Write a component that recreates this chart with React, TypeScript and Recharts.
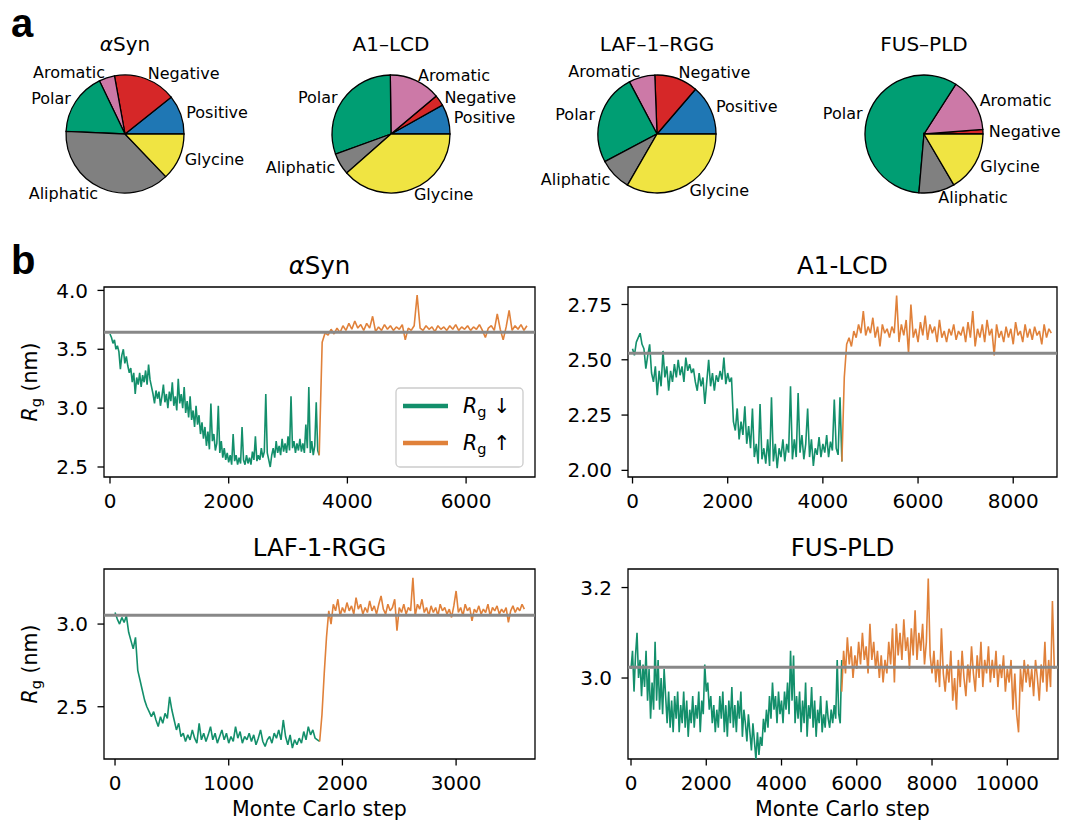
import React from 'react'
import { LineChart, Line, XAxis, YAxis, ReferenceLine, ReferenceArea, PieChart, Pie, Cell } from 'recharts'

const FONT = '"DejaVu Sans", sans-serif'
const GREEN = '#138f6b'
const ORANGE = '#e0813a'
const REF_GRAY = '#888888'

// residue classes (pie slices, counter-clockwise from 3 o'clock)
const CLASSES = ['Positive', 'Negative', 'Aromatic', 'Polar', 'Aliphatic', 'Glycine']
const CLASS_COLORS = ['#1f77b4', '#d62728', '#cc79a7', '#009e73', '#808080', '#f0e442']

const aSynComp = [15, 24, 6, 24, 53, 18]
const a1lcdComp = [11, 4, 19, 41, 8, 52]
const laf1Comp = [23, 20, 12, 42, 15, 56]
const fusComp = [0, 2, 24, 94, 16, 27]

// Rg traces (nm), sampled every `step` Monte Carlo steps
const aSynDownStep = 25
const aSynDown = [
  3.63, 3.6, 3.55, 3.58, 3.5, 3.53, 3.48, 3.33, 3.45, 3.5,
  3.38, 3.44, 3.36, 3.3, 3.34, 3.22, 3.3, 3.12, 3.26, 3.2,
  3.3, 3.18, 3.28, 3.22, 3.32, 3.2, 3.37, 3.24, 3.18, 3.12,
  3.04, 3.15, 3.08, 3.14, 3.02, 3.1, 3.2, 3.05, 3.12, 3.0,
  3.14, 3.06, 3.22, 3.02, 3.1, 2.98, 3.25, 3.04, 3.12, 3.0,
  3.18, 2.96, 3.06, 2.92, 3.1, 2.9, 2.98, 2.84, 3.02, 2.86,
  2.94, 2.78, 2.88, 2.74, 2.84, 2.68, 2.8, 2.65, 3.04, 2.72,
  2.78, 2.64, 2.7, 3.02, 2.62, 2.72, 2.58, 2.66, 2.56, 2.62,
  2.54, 2.6, 2.52, 2.78, 2.55, 2.6, 2.52, 2.58, 2.53, 2.84,
  2.56, 2.52, 2.6, 2.53, 2.58, 2.52, 2.63, 2.56, 2.76, 2.55,
  2.6, 2.56, 2.66, 2.58, 2.63, 3.12, 2.62, 2.56, 2.5, 2.6,
  2.66, 2.58, 2.72, 2.62, 2.68, 2.6, 2.74, 2.63, 2.7, 2.62,
  2.76, 2.64, 3.1, 2.66, 2.72, 2.62, 2.7, 2.64, 2.74, 2.63,
  2.7, 2.62, 2.86, 2.66, 3.18, 2.62, 2.72, 2.6, 2.68, 3.05,
  2.64, 2.6,
]
const aSynUpStart = 3525
const aSynUpStep = 50
const aSynUp = [
  2.6, 3.56, 3.64, 3.62, 3.67, 3.63, 3.68, 3.64, 3.7, 3.66,
  3.72, 3.67, 3.74, 3.68, 3.71, 3.66, 3.72, 3.68, 3.78, 3.65,
  3.69, 3.66, 3.71, 3.67, 3.7, 3.66, 3.69, 3.67, 3.71, 3.58,
  3.68, 3.66, 3.7, 3.96, 3.68, 3.66, 3.7, 3.67, 3.69, 3.65,
  3.7, 3.67, 3.69, 3.66, 3.7, 3.67, 3.71, 3.66, 3.69, 3.67,
  3.7, 3.66, 3.69, 3.67, 3.71, 3.66, 3.6, 3.68, 3.7, 3.66,
  3.8, 3.67, 3.58, 3.69, 3.83, 3.66, 3.7, 3.67, 3.71, 3.66,
  3.7,
]

const a1DownStep = 40
const a1Down = [
  2.55, 2.52, 2.58, 2.6, 2.62, 2.57, 2.55, 2.46, 2.52, 2.57,
  2.44, 2.4, 2.47, 2.34, 2.45, 2.38, 2.54, 2.42, 2.47, 2.36,
  2.45, 2.4, 2.48, 2.42, 2.5, 2.43, 2.47, 2.4, 2.51, 2.45,
  2.48, 2.44, 2.46, 2.4, 2.36, 2.44, 2.38, 2.42, 2.3, 2.4,
  2.5, 2.38, 2.44, 2.36, 2.43, 2.4, 2.45, 2.41, 2.51, 2.39,
  2.44, 2.4, 2.42, 2.22, 2.18, 2.28, 2.14, 2.22, 2.16, 2.29,
  2.12, 2.2, 2.1, 2.28, 2.06, 2.12, 2.03, 2.3, 2.05, 2.1,
  2.03, 2.14, 2.02, 2.33, 2.04, 2.12, 2.01, 2.1, 2.06, 2.14,
  2.04, 2.12, 2.08, 2.38, 2.05, 2.14, 2.06, 2.35, 2.08, 2.16,
  2.05, 2.12, 2.28, 2.06, 2.14, 2.02, 2.1, 2.07, 2.15, 2.06,
  2.12, 2.08, 2.16, 2.06, 2.13, 2.09, 2.32, 2.1, 2.07, 2.33,
  2.04,
]
const a1UpStart = 4400
const a1UpStep = 50
const a1Up = [
  2.04, 2.42, 2.57, 2.6, 2.56, 2.63, 2.6, 2.66, 2.62, 2.72,
  2.61, 2.65, 2.62, 2.69, 2.6, 2.65, 2.56, 2.66, 2.62, 2.64,
  2.6, 2.65, 2.62, 2.79, 2.58, 2.66, 2.61, 2.68, 2.53, 2.75,
  2.6, 2.64, 2.58, 2.67, 2.61, 2.7, 2.59, 2.66, 2.62, 2.65,
  2.58, 2.68, 2.6, 2.63, 2.58, 2.64, 2.61, 2.66, 2.59, 2.63,
  2.61, 2.65, 2.58, 2.67, 2.6, 2.72, 2.56, 2.64, 2.6, 2.66,
  2.58, 2.68, 2.61, 2.64, 2.52, 2.66, 2.6, 2.63, 2.58, 2.65,
  2.6, 2.64, 2.57, 2.67, 2.61, 2.63, 2.58, 2.66, 2.6, 2.64,
  2.59, 2.65, 2.61, 2.63, 2.57, 2.66, 2.6, 2.64, 2.62,
]

const lafDownStep = 20
const lafDown = [
  3.07, 3.03, 3.0, 3.04, 3.01, 3.05, 2.95, 2.9, 2.85, 2.92,
  2.72, 2.66, 2.6, 2.54, 2.5, 2.47, 2.44, 2.47, 2.42, 2.38,
  2.44, 2.4, 2.46, 2.43, 2.56, 2.48, 2.42, 2.36, 2.4, 2.32,
  2.34, 2.29, 2.33, 2.3, 2.36, 2.31, 2.28, 2.4, 2.3, 2.34,
  2.29, 2.33, 2.38, 2.3, 2.34, 2.28, 2.32, 2.36, 2.3, 2.34,
  2.28, 2.32, 2.29, 2.38, 2.31, 2.35, 2.28, 2.32, 2.3, 2.34,
  2.29, 2.33, 2.27, 2.31, 2.36, 2.29, 2.26, 2.3, 2.32, 2.28,
  2.34, 2.31, 2.36, 2.3, 2.42, 2.32, 2.27, 2.33, 2.25, 2.3,
  2.27, 2.31, 2.28, 2.35, 2.3, 2.38, 2.33, 2.36, 2.31, 2.3,
  2.29,
]
const lafUpStart = 1800
const lafUpStep = 20
const lafUp = [
  2.29, 2.45, 2.7, 2.92, 3.08, 3.0, 3.12, 3.08, 3.15, 3.05,
  3.1, 3.07, 3.13, 3.08, 3.11, 3.06, 3.16, 3.09, 3.12, 3.06,
  3.1, 3.07, 3.14, 3.08, 3.11, 3.06, 3.12, 3.17, 3.09, 3.06,
  3.12, 3.08, 3.1, 3.15, 2.96, 3.1, 3.07, 3.12, 3.06, 3.1,
  3.08, 3.28, 3.05, 3.12, 3.09, 3.15, 3.07, 3.1, 3.05, 3.11,
  3.07, 3.1, 3.05, 3.12, 3.08, 3.1, 3.06, 3.09, 3.04, 3.11,
  3.2, 3.07, 3.1, 3.05, 3.12, 3.08, 3.1, 3.02, 3.09, 3.07,
  3.11, 3.06, 3.09, 3.07, 3.12, 3.05, 3.1, 3.08, 3.11, 3.06,
  3.09, 3.07, 3.1, 3.01, 3.08, 3.11, 3.07, 3.1, 3.08, 3.12,
  3.09,
]

const fusDownStep = 40
const fusDown = [
  3.02, 3.06, 2.97, 3.05, 3.1, 3.0, 3.04, 2.96, 3.03, 2.98,
  3.06, 2.95, 3.02, 2.91, 2.99, 2.93, 3.08, 2.95, 3.04, 2.93,
  3.0, 2.92, 3.02, 2.96, 2.9, 2.97, 2.89, 2.95, 2.88, 2.96,
  2.91, 2.97, 2.88, 2.94, 2.9, 2.97, 2.89, 2.95, 2.87, 2.93,
  2.9, 2.96, 2.89, 2.94, 2.91, 2.97, 2.88, 2.95, 2.92, 3.03,
  2.97, 2.99, 2.93, 2.96, 2.9, 2.94, 2.88, 2.93, 2.89, 2.96,
  2.91, 2.97, 2.88, 2.94, 2.87, 2.95, 2.9, 2.98, 2.89, 2.94,
  2.88, 2.95, 2.91, 2.97, 2.87, 2.93, 2.9, 2.86, 2.92, 2.88,
  2.84, 2.9, 2.86, 2.82, 2.88, 2.83, 2.87, 2.85, 2.91, 2.88,
  2.93, 2.89, 2.96, 2.91, 2.99, 2.93, 2.96, 2.9, 2.97, 2.92,
  2.95, 2.9, 2.97, 2.93, 2.99, 2.92, 3.06, 2.95, 3.05, 2.9,
  2.96, 2.91, 2.97, 2.88, 2.95, 2.9, 2.99, 2.87, 2.94, 2.91,
  2.98, 2.89, 2.95, 2.87, 2.93, 2.9, 2.96, 2.88, 2.92, 2.89,
  2.95, 2.91, 2.89, 2.93, 2.9, 2.94, 2.91, 3.04, 2.92, 2.9,
  3.04,
]
const fusUpStart = 5600
const fusUpStep = 50
const fusUp = [
  2.97, 3.06, 3.01, 3.09, 3.03, 3.07, 3.0, 3.05, 3.02, 3.08,
  3.03, 3.1, 3.04, 3.07, 3.01, 3.12, 3.04, 3.08, 3.02, 3.06,
  3.0, 3.05, 2.99, 3.04, 3.01, 3.08, 3.03, 3.11, 2.99, 3.12,
  3.05, 3.1, 3.04, 3.13, 3.06, 3.09, 3.02, 3.11, 3.05, 3.15,
  3.04, 3.1, 3.06, 3.12, 3.03, 3.08, 3.22, 3.05, 3.01, 3.06,
  2.99, 3.04, 2.98, 3.11, 3.01, 2.97, 3.03, 2.99, 3.06, 2.95,
  3.0, 2.93, 3.04, 2.98, 3.06, 3.0, 2.96, 3.03, 2.99, 3.07,
  3.01, 2.97, 3.05, 3.0, 3.08, 2.98, 3.04, 3.01, 3.07, 2.99,
  3.04, 3.0, 3.06, 2.98, 3.03, 3.0, 3.05, 2.97, 3.02, 2.99,
  3.04, 2.93, 3.01, 2.92, 2.88, 3.02, 2.97, 3.04, 2.99, 3.03,
  2.98, 3.02, 2.96, 3.04, 3.0, 2.95, 3.03, 2.99, 3.08, 2.97,
  3.04, 2.98, 3.17, 3.02,
]

// reference Rg (grey line)
const refRg = { aSyn: 3.645, a1: 2.53, laf: 3.054, fus: 3.024 }

const series = (x0: number, step: number, ys: number[]) => ys.map((y, i) => ({ x: x0 + i * step, y }))

const pieData = (counts: number[]) =>
  counts
    .map((value, i) => ({ name: CLASSES[i], value, color: CLASS_COLORS[i] }))
    .filter((d) => d.value > 0)

const RAD = Math.PI / 180

function pieLabel(props: any) {
  const { cx, cy, midAngle, outerRadius } = props
  const name = props.name ?? props.payload?.name
  const r = outerRadius * 1.1
  const x = cx + r * Math.cos(-midAngle * RAD)
  const y = cy + r * Math.sin(-midAngle * RAD)
  return (
    <text x={x} y={y} textAnchor={x > cx ? 'start' : 'end'} dominantBaseline="central" fontSize={16} fontFamily={FONT} fill="#000">
      {name}
    </text>
  )
}

function CompositionPie({ counts, cx }: { counts: number[]; cx: number }) {
  const data = pieData(counts)
  return (
    <div style={{ position: 'absolute', left: cx - 150, top: 34 }}>
      <PieChart width={300} height={200} margin={{ top: 0, right: 0, bottom: 0, left: 0 }}>
        <Pie
          data={data}
          dataKey="value"
          nameKey="name"
          cx={150}
          cy={100}
          outerRadius={59}
          startAngle={0}
          endAngle={360}
          stroke="#000"
          strokeWidth={1.3}
          label={pieLabel}
          labelLine={false}
          isAnimationActive={false}
        >
          {data.map((d) => (
            <Cell key={d.name} fill={d.color} />
          ))}
        </Pie>
      </PieChart>
    </div>
  )
}

interface PanelCfg {
  left: number
  top: number
  w: number
  h: number
  xDomain: [number, number]
  xTicks: number[]
  yDomain: [number, number]
  yTicks: number[]
  digits: number
  down: { x: number; y: number }[]
  up: { x: number; y: number }[]
  ref: number
}

const tickStyle = { fill: '#000', fontSize: 20, fontFamily: FONT }
const tickLineStyle = { stroke: '#000', strokeWidth: 1.3 }

function RgPanel({ cfg }: { cfg: PanelCfg }) {
  return (
    <div style={{ position: 'absolute', left: cfg.left - 70, top: cfg.top - 50 }}>
      <LineChart width={cfg.w + 85} height={cfg.h + 120} margin={{ top: 50, right: 15, bottom: 40, left: 10 }}>
        <XAxis
          type="number"
          dataKey="x"
          domain={cfg.xDomain}
          ticks={cfg.xTicks}
          allowDataOverflow
          interval={0}
          height={30}
          tickSize={6.5}
          tickMargin={10.5}
          axisLine={false}
          tick={tickStyle}
          tickLine={tickLineStyle}
        />
        <YAxis
          type="number"
          domain={cfg.yDomain}
          ticks={cfg.yTicks}
          allowDataOverflow
          interval={0}
          width={60}
          tickSize={6.5}
          tickMargin={9.5}
          axisLine={false}
          tick={tickStyle}
          tickLine={tickLineStyle}
          tickFormatter={(v: number) => v.toFixed(cfg.digits)}
        />
        <Line data={cfg.down} dataKey="y" stroke={GREEN} strokeWidth={1.6} strokeLinejoin="bevel" dot={false} isAnimationActive={false} />
        <Line data={cfg.up} dataKey="y" stroke={ORANGE} strokeWidth={1.6} strokeLinejoin="bevel" dot={false} isAnimationActive={false} />
        <ReferenceLine y={cfg.ref} stroke={REF_GRAY} strokeWidth={3} />
        <ReferenceArea
          x1={cfg.xDomain[0]}
          x2={cfg.xDomain[1]}
          y1={cfg.yDomain[0]}
          y2={cfg.yDomain[1]}
          fill="none"
          fillOpacity={0}
          stroke="#000"
          strokeWidth={1.3}
          strokeOpacity={1}
        />
      </LineChart>
    </div>
  )
}

const panels: PanelCfg[] = [
  {
    left: 104, top: 287, w: 431, h: 190,
    xDomain: [-101, 7161], xTicks: [0, 2000, 4000, 6000],
    yDomain: [2.415, 4.029], yTicks: [2.5, 3.0, 3.5, 4.0], digits: 1,
    down: series(0, aSynDownStep, aSynDown), up: series(aSynUpStart, aSynUpStep, aSynUp), ref: refRg.aSyn,
  },
  {
    left: 628, top: 287, w: 429, h: 190,
    xDomain: [-95, 8920], xTicks: [0, 2000, 4000, 6000, 8000],
    yDomain: [1.97, 2.829], yTicks: [2.0, 2.25, 2.5, 2.75], digits: 2,
    down: series(0, a1DownStep, a1Down), up: series(a1UpStart, a1UpStep, a1Up), ref: refRg.a1,
  },
  {
    left: 104, top: 569, w: 431, h: 190,
    xDomain: [-97, 3694], xTicks: [0, 1000, 2000, 3000],
    yDomain: [2.184, 3.333], yTicks: [2.5, 3.0], digits: 1,
    down: series(0, lafDownStep, lafDown), up: series(lafUpStart, lafUpStep, lafUp), ref: refRg.laf,
  },
  {
    left: 628, top: 569, w: 430, h: 190,
    xDomain: [-80, 11348], xTicks: [0, 2000, 4000, 6000, 8000, 10000],
    yDomain: [2.821, 3.241], yTicks: [3.0, 3.2], digits: 1,
    down: series(0, fusDownStep, fusDown), up: series(fusUpStart, fusUpStep, fusUp), ref: refRg.fus,
  },
]

function RgLabel({ x, y }: { x: number; y: number }) {
  return (
    <text x={x} y={y} transform={`rotate(-90 ${x} ${y})`} textAnchor="middle" fontSize={20.5} fontFamily={FONT} fill="#000">
      <tspan fontStyle="italic">R</tspan>
      <tspan fontSize={14.5} dy={4}>g</tspan>
      <tspan dy={-4}>{'  (nm)'}</tspan>
    </text>
  )
}

function LegendEntry({ y, color, arrow }: { y: number; color: string; arrow: string }) {
  return (
    <g>
      <line x1={403} x2={448} y1={y} y2={y} stroke={color} strokeWidth={4.5} />
      <text x={463} y={y + 7} fontSize={20.5} fontFamily={FONT} fill="#000">
        <tspan fontStyle="italic">R</tspan>
        <tspan fontSize={14.5} dy={4}>g</tspan>
        <tspan dy={-4}>{' ' + arrow}</tspan>
      </text>
    </g>
  )
}

export default function App() {
  const txt = { fontFamily: FONT, fill: '#000' }
  return (
    <div style={{ position: 'relative', width: 1065, height: 823, background: '#fff', overflow: 'hidden' }}>
      <style>{'body{margin:0}'}</style>
      <CompositionPie counts={aSynComp} cx={125} />
      <CompositionPie counts={a1lcdComp} cx={391} />
      <CompositionPie counts={laf1Comp} cx={657} />
      <CompositionPie counts={fusComp} cx={924} />
      {panels.map((p, i) => (
        <RgPanel key={i} cfg={p} />
      ))}
      <svg width={1065} height={823} style={{ position: 'absolute', left: 0, top: 0, pointerEvents: 'none' }}>
        <text x={11} y={37} fontSize={40} fontWeight="bold" fontFamily='"Liberation Sans", Arial, sans-serif' fill="#000">a</text>
        <text x={11} y={274} fontSize={40} fontWeight="bold" fontFamily='"Liberation Sans", Arial, sans-serif' fill="#000">b</text>

        <text x={125} y={50.5} fontSize={20} textAnchor="middle" {...txt}>
          <tspan fontStyle="italic">α</tspan>Syn
        </text>
        <text x={391} y={50.5} fontSize={20} textAnchor="middle" {...txt}>A1–LCD</text>
        <text x={657} y={50.5} fontSize={20} textAnchor="middle" {...txt}>LAF–1–RGG</text>
        <text x={924} y={50.5} fontSize={20} textAnchor="middle" {...txt}>FUS–PLD</text>

        <text x={319.5} y={274} fontSize={24.5} textAnchor="middle" {...txt}>
          <tspan fontStyle="italic">α</tspan>Syn
        </text>
        <text x={842.5} y={274} fontSize={24.5} textAnchor="middle" {...txt}>A1-LCD</text>
        <text x={319.5} y={556} fontSize={24.5} textAnchor="middle" {...txt}>LAF-1-RGG</text>
        <text x={842.5} y={556} fontSize={24.5} textAnchor="middle" {...txt}>FUS-PLD</text>

        <RgLabel x={37} y={382} />
        <RgLabel x={37} y={664} />

        <text x={319.5} y={816} fontSize={20.5} textAnchor="middle" {...txt}>Monte Carlo step</text>
        <text x={842.5} y={816} fontSize={20.5} textAnchor="middle" {...txt}>Monte Carlo step</text>

        <rect x={396} y={388} width={127} height={79} rx={4} fill="#fff" fillOpacity={0.8} stroke="#cccccc" strokeWidth={1.3} />
        <LegendEntry y={406} color={GREEN} arrow="↓" />
        <LegendEntry y={443} color={ORANGE} arrow="↑" />
      </svg>
    </div>
  )
}
